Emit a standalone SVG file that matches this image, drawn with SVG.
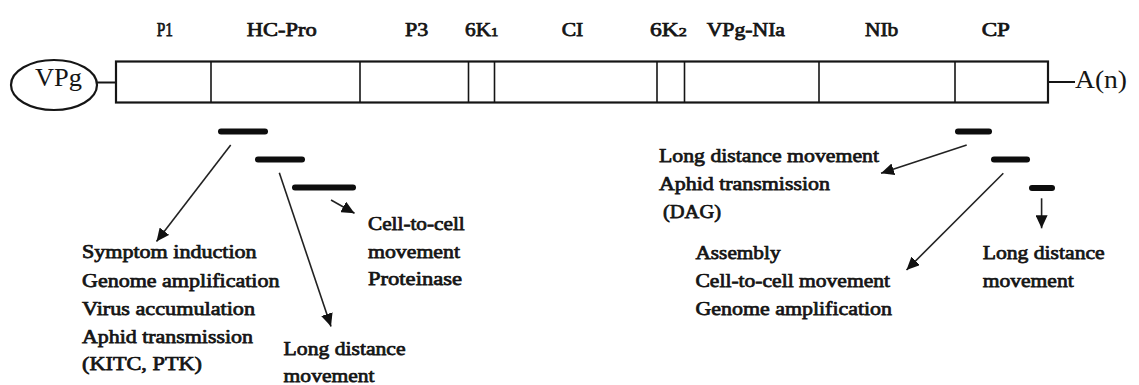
<svg xmlns="http://www.w3.org/2000/svg" width="1139" height="385" viewBox="0 0 1139 385">
  <style>
    .lbl { font-family: "Liberation Serif", "Times New Roman", serif; font-size: 19px; fill: #151515; stroke: #151515; stroke-width: 0.75; }
    .txt { font-family: "Liberation Serif", "Times New Roman", serif; font-size: 19.5px; fill: #151515; stroke: #151515; stroke-width: 0.75; }
    .big { font-family: "Liberation Serif", "Times New Roman", serif; font-size: 25px; fill: #151515; }
    .frame { fill: #ffffff; stroke: #151515; stroke-width: 2.2; }
    .div { stroke: #151515; stroke-width: 1.6; }
    .bar { stroke: #0d0d0d; stroke-width: 6; stroke-linecap: round; }
    .arr { stroke: #222; stroke-width: 1.6; fill: none; marker-end: url(#ah); }
  </style>
  <defs>
    <marker id="ah" markerUnits="userSpaceOnUse" markerWidth="14" markerHeight="12" refX="13" refY="6" orient="auto">
      <path d="M0,0 L13,6 L0,12 z" fill="#111"/>
    </marker>
  </defs>
  <rect x="0" y="0" width="1139" height="385" fill="#ffffff"/>

  <g id="genome">
    <g id="vpg">
      <ellipse cx="54" cy="85" rx="43" ry="25" fill="#ffffff" stroke="#151515" stroke-width="2.2"/>
      <text class="big" x="35" y="86" textLength="47" lengthAdjust="spacingAndGlyphs">VPg</text>
    </g>
    <line x1="97" y1="82.5" x2="116" y2="82.5" stroke="#151515" stroke-width="2"/>
    <rect class="frame" x="116" y="61.5" width="932" height="41"/>
    <line class="div" x1="211" y1="61.5" x2="211" y2="102.5"/>
    <line class="div" x1="360" y1="61.5" x2="360" y2="102.5"/>
    <line class="div" x1="468.5" y1="61.5" x2="468.5" y2="102.5"/>
    <line class="div" x1="494.5" y1="61.5" x2="494.5" y2="102.5"/>
    <line class="div" x1="657" y1="61.5" x2="657" y2="102.5"/>
    <line class="div" x1="684.5" y1="61.5" x2="684.5" y2="102.5"/>
    <line class="div" x1="819" y1="61.5" x2="819" y2="102.5"/>
    <line class="div" x1="955" y1="61.5" x2="955" y2="102.5"/>
    <line x1="1048" y1="82" x2="1075" y2="82" stroke="#151515" stroke-width="2"/>
    <text class="big" x="1075" y="88" textLength="52" lengthAdjust="spacingAndGlyphs">A(n)</text>
  </g>

  <g id="labels">
    <text class="lbl" x="156.7" y="36" textLength="16.3" lengthAdjust="spacingAndGlyphs">P1</text>
    <text class="lbl" x="246.7" y="36" textLength="70" lengthAdjust="spacingAndGlyphs">HC-Pro</text>
    <text class="lbl" x="405" y="36" textLength="23.3" lengthAdjust="spacingAndGlyphs">P3</text>
    <text class="lbl" x="465" y="36" textLength="33.3" lengthAdjust="spacingAndGlyphs">6K<tspan font-size="13">1</tspan></text>
    <text class="lbl" x="561.7" y="36" textLength="21.6" lengthAdjust="spacingAndGlyphs">CI</text>
    <text class="lbl" x="650" y="36" textLength="36.7" lengthAdjust="spacingAndGlyphs">6K<tspan font-size="13">2</tspan></text>
    <text class="lbl" x="706.7" y="36" textLength="78.3" lengthAdjust="spacingAndGlyphs">VPg-NIa</text>
    <text class="lbl" x="865" y="36" textLength="33.3" lengthAdjust="spacingAndGlyphs">NIb</text>
    <text class="lbl" x="981.7" y="36" textLength="28.3" lengthAdjust="spacingAndGlyphs">CP</text>
  </g>

  <g id="domains">
    <line class="bar" x1="221" y1="131.5" x2="265" y2="131.5"/>
    <line class="bar" x1="258" y1="159.5" x2="302" y2="159.5"/>
    <line class="bar" x1="295" y1="187.5" x2="353" y2="187.5"/>
    <line class="bar" x1="958" y1="131.5" x2="989" y2="131.5"/>
    <line class="bar" x1="994" y1="159.5" x2="1027" y2="159.5"/>
    <line class="bar" x1="1032" y1="188" x2="1052" y2="188"/>
  </g>

  <g id="connectors">
    <line class="arr" x1="230.7" y1="145" x2="156.5" y2="241.5"/>
    <line class="arr" x1="279.3" y1="172.7" x2="331" y2="326.5"/>
    <line class="arr" x1="331" y1="200" x2="354.5" y2="213.3"/>
    <line class="arr" x1="966.7" y1="145" x2="881" y2="173.3"/>
    <line class="arr" x1="1003.3" y1="173.3" x2="906.5" y2="270"/>
    <line class="arr" x1="1041.6" y1="198.3" x2="1041.6" y2="228.3"/>
  </g>

  <g id="p1-functions">
    <text class="txt" x="82" y="258" textLength="174.6" lengthAdjust="spacingAndGlyphs">Symptom induction</text>
    <text class="txt" x="82" y="286.5" textLength="197.5" lengthAdjust="spacingAndGlyphs">Genome amplification</text>
    <text class="txt" x="82" y="315" textLength="173" lengthAdjust="spacingAndGlyphs">Virus accumulation</text>
    <text class="txt" x="82" y="343" textLength="171" lengthAdjust="spacingAndGlyphs">Aphid transmission</text>
    <text class="txt" x="82" y="370" textLength="120" lengthAdjust="spacingAndGlyphs">(KITC, PTK)</text>
  </g>
  <g id="hcpro-long">
    <text class="txt" x="283.6" y="355" textLength="122" lengthAdjust="spacingAndGlyphs">Long distance</text>
    <text class="txt" x="283.6" y="381.5" textLength="91" lengthAdjust="spacingAndGlyphs">movement</text>
  </g>
  <g id="hcpro-cell">
    <text class="txt" x="368" y="230" textLength="96.7" lengthAdjust="spacingAndGlyphs">Cell-to-cell</text>
    <text class="txt" x="368" y="258" textLength="92" lengthAdjust="spacingAndGlyphs">movement</text>
    <text class="txt" x="368" y="285" textLength="94" lengthAdjust="spacingAndGlyphs">Proteinase</text>
  </g>
  <g id="cp-dag">
    <text class="txt" x="659" y="162" textLength="220" lengthAdjust="spacingAndGlyphs">Long distance movement</text>
    <text class="txt" x="659" y="190" textLength="171" lengthAdjust="spacingAndGlyphs">Aphid transmission</text>
    <text class="txt" x="663" y="218" textLength="58" lengthAdjust="spacingAndGlyphs">(DAG)</text>
  </g>
  <g id="cp-core">
    <text class="txt" x="695.5" y="259" textLength="85" lengthAdjust="spacingAndGlyphs">Assembly</text>
    <text class="txt" x="695.5" y="287" textLength="194.5" lengthAdjust="spacingAndGlyphs">Cell-to-cell movement</text>
    <text class="txt" x="695.5" y="315" textLength="196.5" lengthAdjust="spacingAndGlyphs">Genome amplification</text>
  </g>
  <g id="cp-long">
    <text class="txt" x="982.7" y="259" textLength="122" lengthAdjust="spacingAndGlyphs">Long distance</text>
    <text class="txt" x="982.7" y="287" textLength="91" lengthAdjust="spacingAndGlyphs">movement</text>
  </g>
</svg>
